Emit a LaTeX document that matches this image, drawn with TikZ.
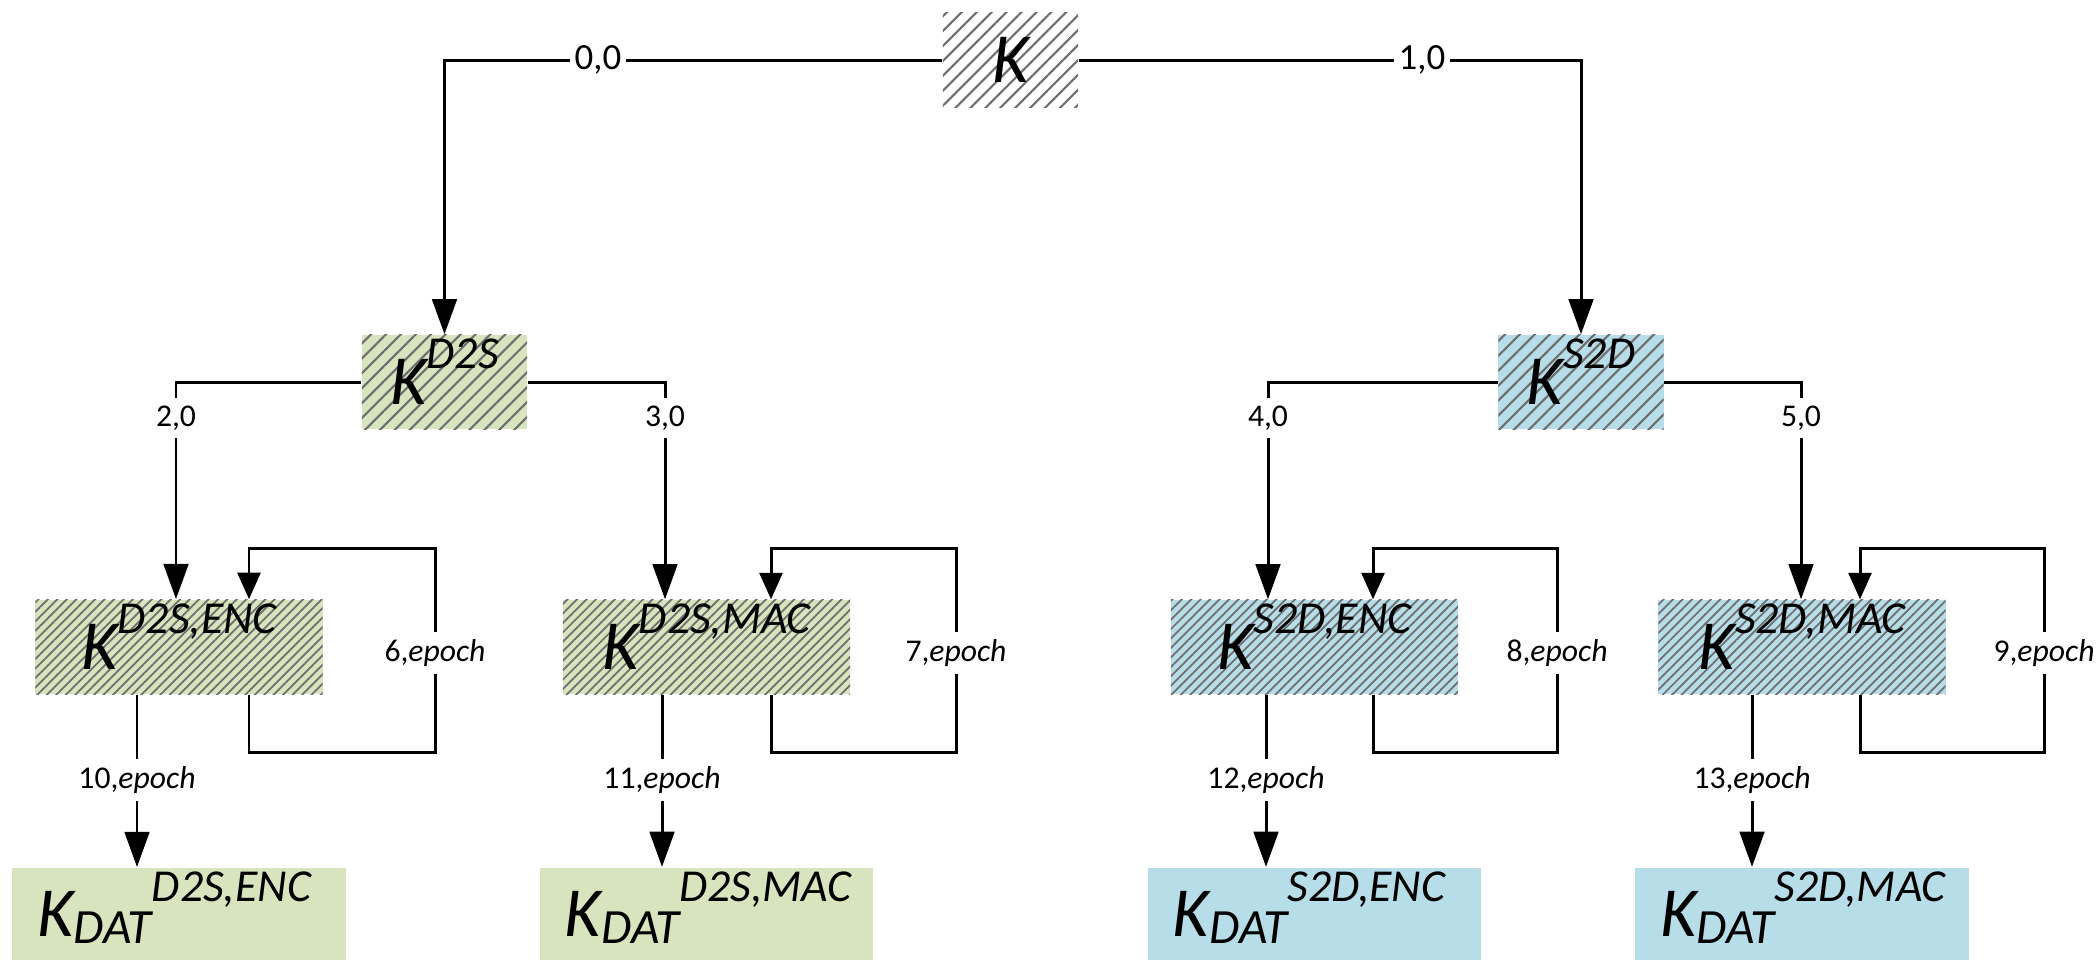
\documentclass[tikz,border=0pt]{standalone}
\usepackage{fontspec}
\setmainfont{Carlito}
\usepackage{tikz}
\usetikzlibrary{arrows.meta,positioning,patterns.meta}
\definecolor{cD2S}{HTML}{D7E4BD}
\definecolor{cS2D}{HTML}{B7DDE8}
\definecolor{cHatch}{HTML}{6E6E6E}
\newcommand{\kmain}{{\fontsize{20}{20}\selectfont\itshape K}}
\newcommand{\ksup}[1]{\kmain\raisebox{10pt}{\fontsize{13}{13}\selectfont\itshape #1}}
\newcommand{\kdat}[1]{\kmain\raisebox{-2pt}{\fontsize{14}{14}\selectfont\itshape DAT}\raisebox{10pt}{\fontsize{13}{13}\selectfont\itshape #1}}
\newcommand{\ep}[1]{#1,\textit{epoch}}

\begin{document}
\begin{tikzpicture}[
    x=0.01cm, y=0.01cm,
    key/.style={inner xsep=0pt, inner ysep=0pt, minimum height=9.4mm,
                text height=6.9mm, text depth=2.5mm},
    hwide/.style={pattern={Lines[angle=45,distance=3pt,line width=0.6pt]}, pattern color=cHatch},
    hfine/.style={pattern={Lines[angle=45,distance=1.9pt,line width=0.5pt]}, pattern color=cHatch},
    lvltop/.style={key, hwide, minimum width=13.5mm},
    lvltwo/.style={key, hwide, minimum width=16.5mm, preaction={fill=#1}},
    lvlthree/.style={key, hfine, minimum width=28.7mm, preaction={fill=#1}},
    datbox/.style={key, fill=#1, inner xsep=2.5mm, text width=28.3mm, align=left},
    lbl/.style={font=\fontsize{9}{10}\selectfont, inner sep=2pt},
    lbltop/.style={font=\fontsize{10.5}{12}\selectfont, inner sep=1pt},
    line/.style={line width=0.85pt, draw=black},
    flow/.style={line, -{Triangle[length=10pt,width=7pt]}},
    back/.style={line, -{Triangle[length=7.5pt,width=6.5pt]}},
  ]
  \useasboundingbox (0,0) rectangle (2100,959);

  % key nodes
  \node[lvltop] (k) at (1010.5,899) {\kmain};
  \node[lvltwo=cD2S] (kds) at (444.5,577) {\ksup{D2S}};
  \node[lvltwo=cS2D] (ksd) at (1581,577) {\ksup{S2D}};
  \node[lvlthree=cD2S] (kdsenc) at (179,312) {\ksup{D2S,ENC}};
  \node[lvlthree=cD2S] (kdsmac) at (706.5,312) {\ksup{D2S,MAC}};
  \node[lvlthree=cS2D] (ksdenc) at (1314.5,312) {\ksup{S2D,ENC}};
  \node[lvlthree=cS2D] (ksdmac) at (1802,312) {\ksup{S2D,MAC}};
  \node[datbox=cD2S, below=1.72cm of kdsenc] (datdsenc) {\kdat{D2S,ENC}};
  \node[datbox=cD2S, below=1.72cm of kdsmac] (datdsmac) {\kdat{D2S,MAC}};
  \node[datbox=cS2D, below=1.72cm of ksdenc] (datsdenc) {\kdat{S2D,ENC}};
  \node[datbox=cS2D, below=1.72cm of ksdmac] (datsdmac) {\kdat{S2D,MAC}};

  % edge labels
  \node[lbltop] (t0) at (598,899) {0,0};
  \node[lbltop] (t1) at (1422,899) {1,0};
  \node[lbl] (t2) at (176,541) {2,0};
  \node[lbl] (t3) at (665,541) {3,0};
  \node[lbl] (t4) at (1268,541) {4,0};
  \node[lbl] (t5) at (1801,541) {5,0};
  \node[lbl] (t6) at (435,306) {\ep{6}};
  \node[lbl] (t7) at (956,306) {\ep{7}};
  \node[lbl] (t8) at (1557,306) {\ep{8}};
  \node[lbl] (t9) at (2044,306) {\ep{9}};
  \node[lbl] (t10) at (137,179) {\ep{10}};
  \node[lbl] (t11) at (662,179) {\ep{11}};
  \node[lbl] (t12) at (1266,179) {\ep{12}};
  \node[lbl] (t13) at (1752,179) {\ep{13}};

  % loop corners
  \coordinate (lp6a) at (249,207);  \coordinate (lp6b) at (249,411);
  \coordinate (lp7a) at (771,207);  \coordinate (lp7b) at (771,411);
  \coordinate (lp8a) at (1373,207); \coordinate (lp8b) at (1373,411);
  \coordinate (lp9a) at (1860,207); \coordinate (lp9b) at (1860,411);

  \draw[flow] (k.west) -- (t0) -| (kds.north);
  \draw[flow] (k.east) -- (t1) -| (ksd.north);
  \draw[flow] (kds.west) -| (t2) -- (t2 |- kdsenc.north);
  \draw[flow] (kds.east) -| (t3) -- (t3 |- kdsmac.north);
  \draw[flow] (ksd.west) -| (t4) -- (t4 |- ksdenc.north);
  \draw[flow] (ksd.east) -| (t5) -- (t5 |- ksdmac.north);

  \draw[back] (lp6a |- kdsenc.south) -- (lp6a) -| (t6) |- (lp6b) -- (lp6b |- kdsenc.north);
  \draw[back] (lp7a |- kdsmac.south) -- (lp7a) -| (t7) |- (lp7b) -- (lp7b |- kdsmac.north);
  \draw[back] (lp8a |- ksdenc.south) -- (lp8a) -| (t8) |- (lp8b) -- (lp8b |- ksdenc.north);
  \draw[back] (lp9a |- ksdmac.south) -- (lp9a) -| (t9) |- (lp9b) -- (lp9b |- ksdmac.north);

  \draw[flow] (t10 |- kdsenc.south) -- (t10) -- (t10 |- datdsenc.north);
  \draw[flow] (t11 |- kdsmac.south) -- (t11) -- (t11 |- datdsmac.north);
  \draw[flow] (t12 |- ksdenc.south) -- (t12) -- (t12 |- datsdenc.north);
  \draw[flow] (t13 |- ksdmac.south) -- (t13) -- (t13 |- datsdmac.north);
\end{tikzpicture}
\end{document}
